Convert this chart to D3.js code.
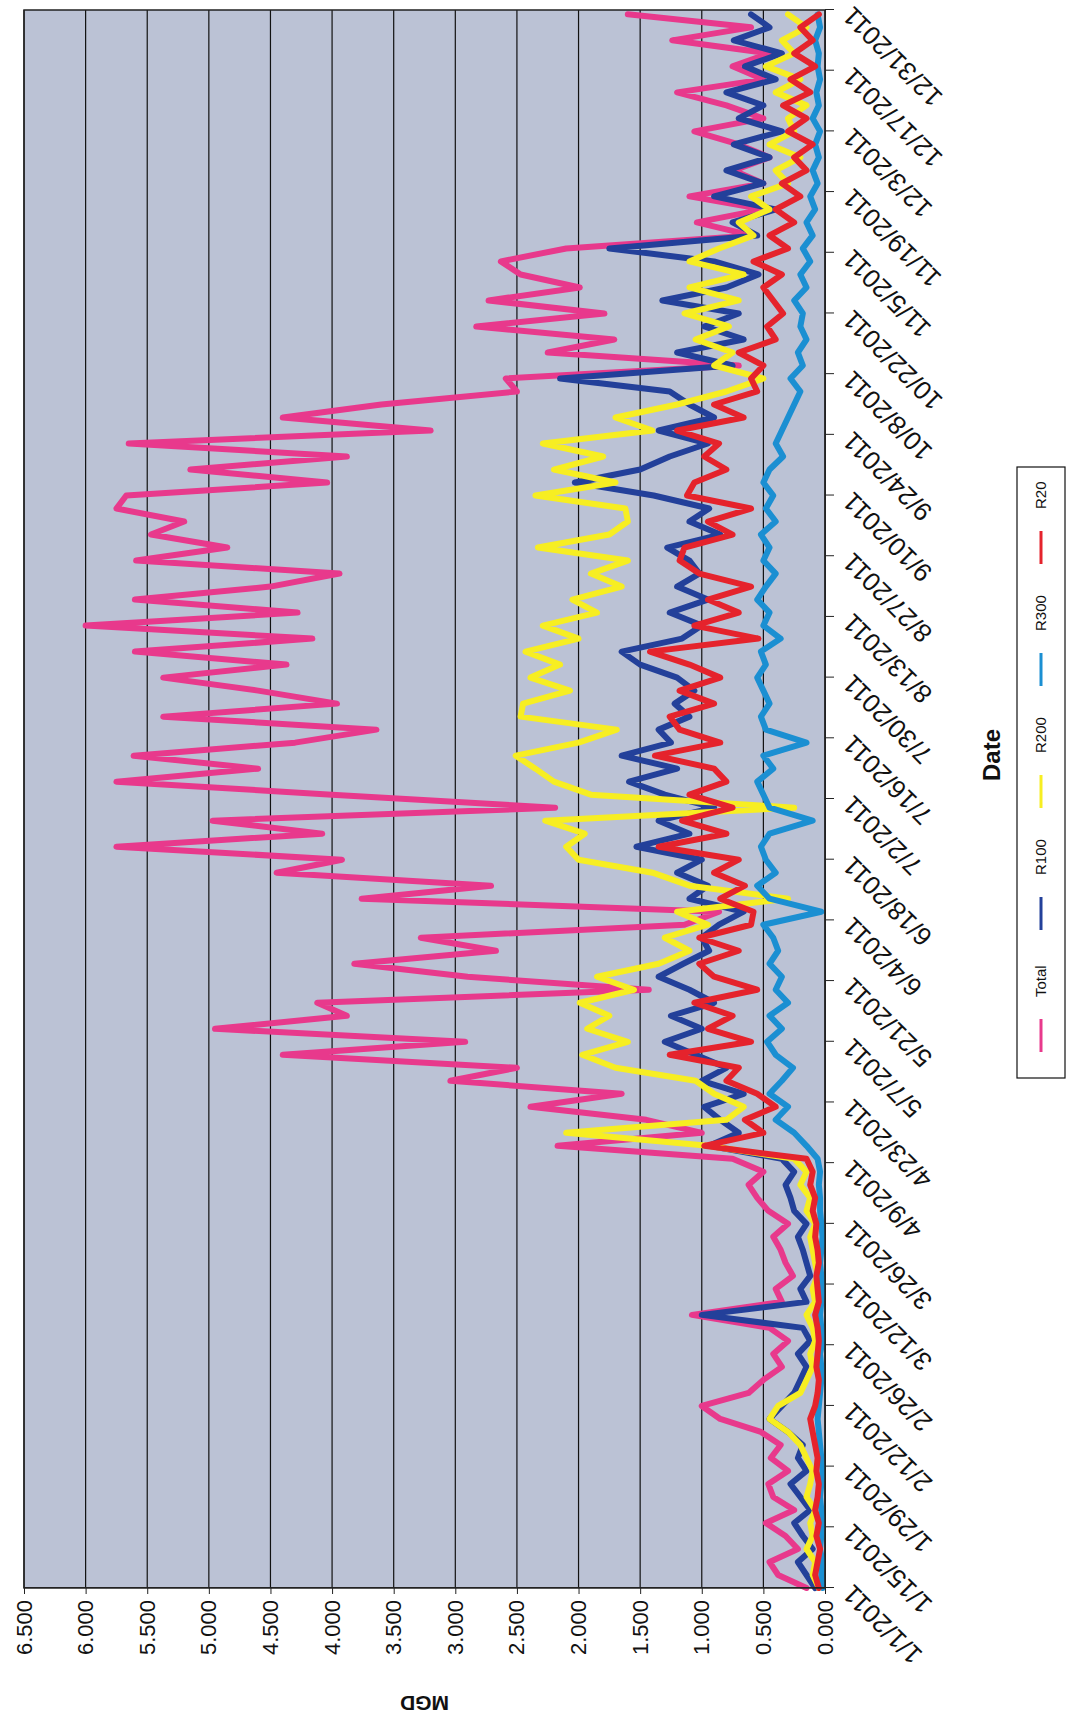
<!DOCTYPE html>
<html>
<head>
<meta charset="utf-8">
<script src="https://cdn.jsdelivr.net/npm/d3@7"></script>
<style>
  body { margin: 0; background: #fff; }
  text { font-family: "Liberation Sans", Arial, sans-serif; fill: #111; }
</style>
</head>
<body>
<div id="chart"></div>
<script>
// date axis tick labels (every 14 days)
const tickLabels = ["1/1/2011","1/15/2011","1/29/2011","2/12/2011","2/26/2011","3/12/2011","3/26/2011",
  "4/9/2011","4/23/2011","5/7/2011","5/21/2011","6/4/2011","6/18/2011","7/2/2011","7/16/2011",
  "7/30/2011","8/13/2011","8/27/2011","9/10/2011","9/24/2011","10/8/2011","10/22/2011","11/5/2011",
  "11/19/2011","12/3/2011","12/17/2011","12/31/2011"];
const valueTicks = [0, 0.5, 1, 1.5, 2, 2.5, 3, 3.5, 4, 4.5, 5, 5.5, 6, 6.5];

// readings taken every 3 days starting 1/1/2011
const firstDay = "1/1/2011";
const stepDays = 3;

const total = [0.15,0.38,0.45,0.22,0.32,0.48,0.25,0.42,0.46,0.30,
  0.44,0.36,0.52,0.85,1.00,0.62,0.50,0.35,0.42,0.30,
  0.45,1.08,0.35,0.40,0.26,0.32,0.36,0.42,0.30,0.46,
  0.55,0.62,0.50,0.75,2.17,1.00,1.45,2.39,1.65,3.04,
  2.50,4.40,2.92,4.95,3.88,4.12,1.43,2.90,3.82,2.67,
  3.28,1.14,0.86,3.76,2.71,4.45,3.92,5.75,4.08,4.97,
  2.19,4.00,5.75,4.60,5.61,4.30,3.64,5.37,3.96,4.60,
  5.37,4.37,5.60,4.16,6.00,4.28,5.60,4.50,3.94,5.59,
  4.85,5.47,5.20,5.75,5.67,4.04,5.15,3.88,5.65,3.20,
  4.40,3.60,2.50,2.59,0.70,2.25,1.71,2.83,1.79,2.73,
  1.99,2.47,2.63,2.10,0.60,1.04,0.50,1.10,0.50,0.74,
  0.45,0.70,1.06,0.50,0.80,1.20,0.50,0.75,0.45,1.24,
  0.60,1.60];

const r100 = [0.08,0.15,0.22,0.10,0.18,0.25,0.12,0.20,0.28,0.15,
  0.22,0.18,0.30,0.45,0.35,0.25,0.20,0.15,0.22,0.12,
  0.18,1.00,0.15,0.20,0.12,0.15,0.18,0.22,0.15,0.25,
  0.28,0.32,0.25,0.35,0.94,0.70,0.85,0.98,0.66,1.00,
  0.80,1.05,1.30,1.00,1.25,0.90,1.10,1.35,1.15,0.94,
  1.00,0.86,0.66,1.10,0.95,1.20,1.00,1.53,1.10,1.35,
  0.90,1.30,1.59,1.20,1.65,1.25,1.35,1.10,1.22,1.06,
  1.20,1.50,1.65,1.16,1.00,1.26,0.95,1.20,1.02,1.10,
  1.28,0.85,1.10,0.94,1.39,2.03,1.50,1.26,0.95,1.35,
  0.90,1.10,1.26,2.15,0.75,1.20,0.66,0.98,0.70,1.32,
  0.80,0.54,0.90,1.75,0.55,0.75,0.40,0.90,0.50,0.80,
  0.45,0.74,0.35,0.70,0.50,0.80,0.40,0.65,0.35,0.74,
  0.45,0.60];

const r200 = [0.05,0.10,0.08,0.15,0.10,0.12,0.08,0.15,0.12,0.10,
  0.15,0.20,0.30,0.45,0.38,0.20,0.15,0.10,0.12,0.08,
  0.10,0.15,0.08,0.10,0.06,0.08,0.10,0.12,0.08,0.15,
  0.12,0.20,0.15,0.25,0.95,2.10,0.80,0.66,0.90,1.05,
  1.70,1.97,1.60,1.93,1.75,1.99,1.55,1.85,1.35,1.10,
  1.30,0.95,1.20,0.30,1.10,1.40,2.00,2.10,1.95,2.27,
  0.25,1.90,2.20,2.35,2.51,2.00,1.69,2.47,2.45,2.07,
  2.39,2.15,2.43,2.00,2.29,1.85,2.05,1.65,1.90,1.60,
  2.33,1.75,1.60,1.62,2.35,1.70,2.20,1.80,2.29,1.40,
  1.70,1.20,0.80,0.50,0.90,0.75,1.05,0.78,1.14,0.70,
  1.10,0.66,1.10,0.86,0.58,0.70,0.45,0.60,0.30,0.40,
  0.20,0.45,0.25,0.30,0.15,0.40,0.20,0.48,0.25,0.35,
  0.15,0.30];

const r300 = [0.02,0.03,0.02,0.04,0.03,0.02,0.03,0.04,0.03,0.02,
  0.03,0.04,0.05,0.06,0.05,0.04,0.03,0.03,0.04,0.02,
  0.03,0.04,0.03,0.02,0.03,0.04,0.03,0.02,0.03,0.04,
  0.04,0.05,0.04,0.06,0.15,0.25,0.40,0.30,0.45,0.35,
  0.26,0.40,0.47,0.35,0.45,0.30,0.40,0.35,0.45,0.38,
  0.42,0.50,0.03,0.45,0.55,0.40,0.48,0.52,0.45,0.10,
  0.45,0.50,0.55,0.42,0.50,0.15,0.48,0.52,0.45,0.50,
  0.55,0.48,0.52,0.36,0.50,0.45,0.55,0.48,0.40,0.50,
  0.45,0.52,0.40,0.48,0.42,0.50,0.45,0.34,0.40,0.35,
  0.30,0.25,0.20,0.28,0.18,0.22,0.15,0.20,0.18,0.25,
  0.15,0.20,0.12,0.18,0.10,0.15,0.08,0.12,0.06,0.10,
  0.05,0.08,0.04,0.10,0.05,0.07,0.04,0.06,0.05,0.08,
  0.04,0.06];

const r20 = [0.05,0.08,0.06,0.04,0.07,0.05,0.08,0.06,0.05,0.07,
  0.06,0.08,0.10,0.12,0.08,0.06,0.05,0.07,0.06,0.05,
  0.06,0.08,0.05,0.06,0.07,0.05,0.06,0.08,0.07,0.10,
  0.08,0.12,0.10,0.15,0.98,0.50,0.65,0.40,0.55,0.80,
  0.70,1.26,0.60,0.95,0.75,1.06,0.55,0.90,1.02,0.70,
  1.02,0.60,0.58,0.85,0.65,0.90,0.70,1.35,0.80,1.16,
  0.75,1.10,0.80,0.90,1.38,0.85,1.18,1.26,0.90,1.18,
  0.85,1.10,1.42,0.54,1.06,0.70,0.95,0.60,1.02,1.18,
  1.14,0.75,0.95,0.60,1.12,1.06,0.80,0.98,0.86,1.20,
  0.66,0.90,0.55,0.60,0.50,0.70,0.40,0.47,0.34,0.42,
  0.50,0.35,0.58,0.30,0.45,0.25,0.40,0.20,0.35,0.15,
  0.25,0.10,0.30,0.15,0.34,0.12,0.28,0.08,0.25,0.10,
  0.20,0.05];

const seriesNames = ["Total", "R100", "R200", "R300", "R20"];
const seriesValues = [total, r100, r200, r300, r20];
const seriesColors = ["#e8398c", "#23409a", "#f7ee22", "#1b8fd2", "#e5232c"];

const parse = d3.timeParse("%m/%d/%Y");
const start = parse(firstDay);
const tickDates = tickLabels.map(parse);

const svg = d3.select("#chart").append("svg")
  .attr("width", 1070).attr("height", 1723);

// the whole chart is drawn upright, then turned a quarter turn as on the scanned page
const W = 1578, H = 801;
const g = svg.append("g").attr("transform", "translate(24,1588) rotate(-90)");

const x = d3.scaleTime().domain([tickDates[0], tickDates[tickDates.length - 1]]).range([0, W]);
const y = d3.scaleLinear().domain([0, 6.5]).range([H, 0]);

g.append("rect").attr("width", W).attr("height", H).attr("fill", "#bbc2d5");

g.selectAll("line.grid").data(valueTicks).join("line")
  .attr("class", "grid")
  .attr("x1", 0).attr("x2", W)
  .attr("y1", d => y(d)).attr("y2", d => y(d))
  .attr("stroke", "#111").attr("stroke-width", 1.2);

const line = d3.line()
  .x((d, i) => x(d3.timeDay.offset(start, i * stepDays)))
  .y(d => y(d));

seriesValues.forEach((vals, k) => {
  g.append("path")
    .datum(vals)
    .attr("fill", "none")
    .attr("stroke", seriesColors[k])
    .attr("stroke-width", 6)
    .attr("stroke-linejoin", "round")
    .attr("stroke-linecap", "round")
    .attr("d", line);
});

g.append("rect").attr("width", W).attr("height", H)
  .attr("fill", "none").attr("stroke", "#222").attr("stroke-width", 1.5);

const yAxis = g.append("g")
  .call(d3.axisLeft(y).tickValues(valueTicks).tickFormat(d3.format(".3f")).tickSize(6).tickPadding(6));
yAxis.selectAll("text").style("font-size", "22px");
yAxis.selectAll("line, path").attr("stroke", "#222");

const xAxis = g.append("g").attr("transform", `translate(0,${H})`)
  .call(d3.axisBottom(x).tickValues(tickDates).tickFormat((d, i) => tickLabels[i]).tickSize(9));
xAxis.selectAll("line, path").attr("stroke", "#222");
xAxis.selectAll("text")
  .style("font-size", "26px")
  .attr("text-anchor", "end")
  .attr("x", 0).attr("y", 0).attr("dy", "0.35em")
  .attr("transform", "translate(-2,22) rotate(-45)");

g.append("text")
  .attr("transform", `translate(-108,${H / 2}) rotate(-90)`)
  .attr("text-anchor", "middle")
  .style("font-size", "21px").style("font-weight", "bold")
  .text("MGD");

g.append("text")
  .attr("x", 833).attr("y", 968)
  .attr("text-anchor", "middle").attr("dy", "0.35em")
  .style("font-size", "24px").style("font-weight", "bold")
  .text("Date");

// legend
const legend = g.append("g");
legend.append("rect")
  .attr("x", 510).attr("y", 993).attr("width", 611).attr("height", 48)
  .attr("fill", "#fff").attr("stroke", "#111").attr("stroke-width", 1.2);
const item = legend.selectAll("g.item").data(seriesNames).join("g")
  .attr("class", "item")
  .attr("transform", (d, i) => `translate(${536 + i * 122},1017)`);
item.append("line")
  .attr("x1", 0).attr("x2", 33)
  .attr("stroke", (d, i) => seriesColors[i]).attr("stroke-width", 3);
item.append("text")
  .attr("x", 55).attr("dy", "0.35em")
  .style("font-size", "15px")
  .text(d => d);
</script>
</body>
</html>
